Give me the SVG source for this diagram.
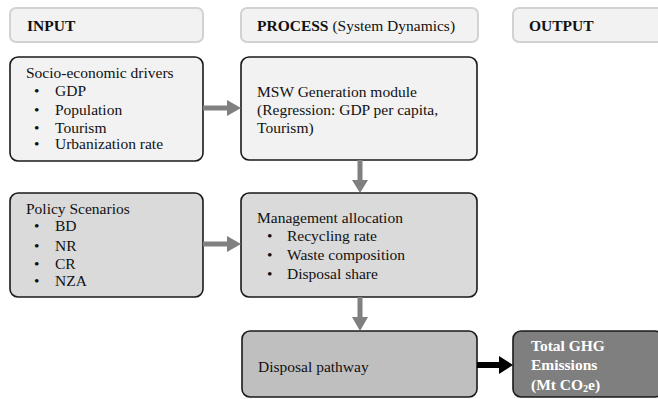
<svg xmlns="http://www.w3.org/2000/svg" width="658" height="399" viewBox="0 0 658 399" font-family="'Liberation Serif', 'Times New Roman', Times, serif">
<style>
text{font-family:'Liberation Serif','Times New Roman',Times,serif;font-size:15.5px;fill:#111}
.hdr{fill:#f2f2f2;stroke:#d2d2d2;stroke-width:2}
.hb{font-weight:bold}
.node{stroke:#1a1a1a;stroke-width:1.6}
.l1{fill:#f2f2f2}.l2{fill:#dadada}.l3{fill:#bfbfbf}.l4{fill:#7f7f7f}
.w{fill:#fff;font-weight:bold}
.ga{fill:#808080}
.ba{fill:#000}
</style>
<g id="hdr-input"><rect class="hdr" x="10" y="8" width="193" height="34" rx="6"/><text class="hb" x="27" y="31">INPUT</text></g>
<g id="hdr-process"><rect class="hdr" x="241" y="8" width="237" height="34" rx="6"/><text x="257" y="31"><tspan class="hb">PROCESS</tspan> (System Dynamics)</text></g>
<g id="hdr-output"><rect class="hdr" x="513" y="8" width="150" height="34" rx="6"/><text class="hb" x="529" y="31">OUTPUT</text></g>

<g id="socio"><rect class="node l1" x="10" y="57" width="193" height="104" rx="8"/>
<text x="26" y="78">Socio-economic drivers</text>
<text x="34" y="96">•</text><text x="55" y="96">GDP</text>
<text x="34" y="115">•</text><text x="55" y="115">Population</text>
<text x="34" y="133">•</text><text x="55" y="133">Tourism</text>
<text x="34" y="149">•</text><text x="55" y="149">Urbanization rate</text></g>

<g id="msw"><rect class="node l1" x="241" y="57" width="236" height="103" rx="8"/>
<text x="257" y="97">MSW Generation module</text>
<text x="257" y="115">(Regression: GDP per capita,</text>
<text x="257" y="133">Tourism)</text></g>

<g id="policy"><rect class="node l2" x="10" y="193" width="193" height="104" rx="8"/>
<text x="26" y="214">Policy Scenarios</text>
<text x="34" y="231">•</text><text x="55" y="231">BD</text>
<text x="34" y="251">•</text><text x="55" y="251">NR</text>
<text x="34" y="269">•</text><text x="55" y="269">CR</text>
<text x="34" y="286">•</text><text x="55" y="286">NZA</text></g>

<g id="mgmt"><rect class="node l2" x="241" y="193" width="236" height="104" rx="8"/>
<text x="257" y="223">Management allocation</text>
<text x="267" y="241">•</text><text x="287" y="241">Recycling rate</text>
<text x="267" y="260">•</text><text x="287" y="260">Waste composition</text>
<text x="267" y="279">•</text><text x="287" y="279">Disposal share</text></g>

<g id="disposal"><rect class="node l3" x="242" y="331" width="235" height="66" rx="8"/>
<text x="258" y="372">Disposal pathway</text></g>

<g id="total"><rect class="node l4" x="513" y="331" width="150" height="66" rx="8"/>
<text class="w" x="531" y="351">Total GHG</text>
<text class="w" x="531" y="370">Emissions</text>
<text class="w" x="531" y="390">(Mt CO<tspan font-size="10" dy="2">2</tspan><tspan dy="-2">e)</tspan></text></g>

<g id="connectors">
<polygon class="ga" points="203,105.5 227,105.5 227,100 241,108 227,116 227,110.5 203,110.5"/>
<polygon class="ga" points="203,241.5 227,241.5 227,236 241,244 227,252 227,246.5 203,246.5"/>
<polygon class="ga" points="357.5,160 362.5,160 362.5,180 368,180 360,193 352,180 357.5,180"/>
<polygon class="ga" points="357.5,297 362.5,297 362.5,317 368,317 360,331 352,317 357.5,317"/>
<polygon class="ba" points="477,362 499,362 499,356 513,365 499,374 499,368 477,368"/>
</g>
</svg>
